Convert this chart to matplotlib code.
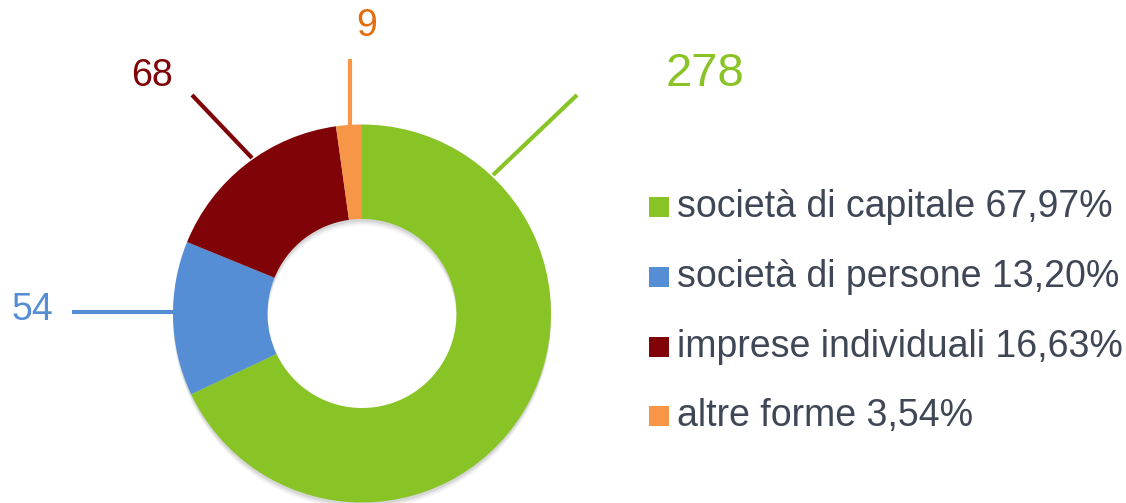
import matplotlib.pyplot as plt
from matplotlib.patches import Wedge, Rectangle

plt.rcParams['font.family'] = ['Liberation Sans', 'DejaVu Sans']

# dati
categorie = ["società di capitale", "società di persone", "imprese individuali", "altre forme"]
valori = [278, 54, 68, 9]
percentuali = ["67,97%", "13,20%", "16,63%", "3,54%"]
colori = ["#88C425", "#558ED5", "#7F0307", "#F79646"]
colori_testo = ["#88C425", "#558ED5", "#7F0307", "#E46C0A"]

W, H = 1126, 503
CX, CY, R = 362, 313.5, 189.0


def px(x, y):
    # pixel immagine -> coordinate dati (centro torta = 0,0, raggio = 1)
    return (x - CX) / R, (CY - y) / R


fig = plt.figure(figsize=(W / 100, H / 100), dpi=100)
ax = fig.add_axes([0, 0, 1, 1])

# ombra leggera sotto la ciambella
for k, a in [(0.035, 0.06), (0.025, 0.08), (0.015, 0.12)]:
    ax.add_patch(Wedge((0, -k), 1.0, 0, 360, width=0.5, color="#555555", alpha=a, lw=0))

ax.pie(valori, colors=colori, startangle=90, counterclock=False, radius=1.0,
       wedgeprops=dict(width=0.5, linewidth=0))

# linee guida ed etichette dei valori
linee = [((493, 175), (577, 95)), ((180, 312), (72, 312)),
         ((252, 158), (192, 95)), ((350, 125), (350, 59))]
etichette = [(705, 74, 34), (32, 310, 27), (152, 76, 27), (367, 26, 27)]
for i in range(len(valori)):
    (x0, y0), (x1, y1) = linee[i]
    a0, b0 = px(x0, y0)
    a1, b1 = px(x1, y1)
    ax.plot([a0, a1], [b0, b1], color=colori[i], lw=3, solid_capstyle="butt")
    tx, ty, fs = etichette[i]
    ax.text(*px(tx, ty), str(valori[i]), color=colori_testo[i], fontsize=fs,
            ha="center", va="center")

# legenda
righe = [207, 277, 347, 416]
for i in range(len(categorie)):
    x0, y0 = px(649, righe[i] + 10)
    ax.add_patch(Rectangle((x0, y0), 20 / R, 20 / R, color=colori[i], lw=0))
    ax.text(*px(677, righe[i]), f"{categorie[i]} {percentuali[i]}", color="#3F4756",
            fontsize=27, ha="left", va="center")

ax.set_xlim(-CX / R, (W - CX) / R)
ax.set_ylim(-(H - CY) / R, CY / R)
ax.set_axis_off()

fig.savefig("out.png", dpi=100, facecolor="white")
